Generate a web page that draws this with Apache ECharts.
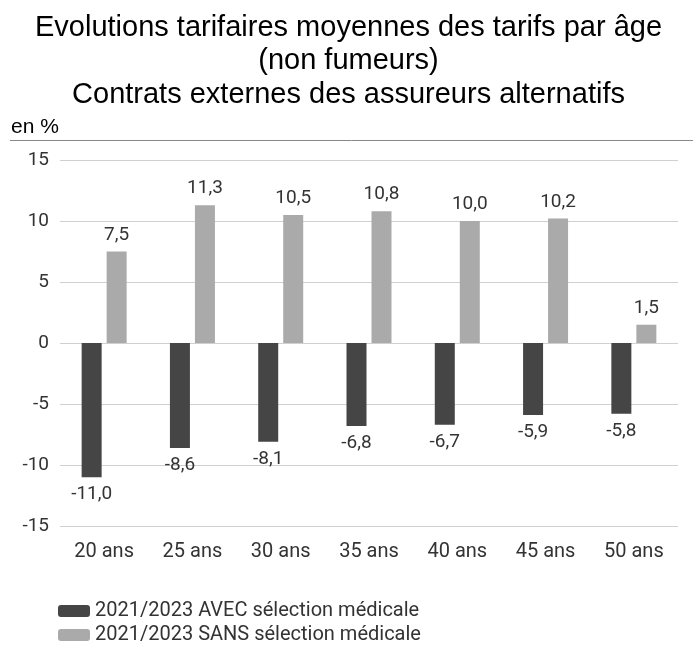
<!DOCTYPE html>
<html><head><meta charset="utf-8">
<script src="https://cdn.jsdelivr.net/npm/echarts@6/dist/echarts.min.js"></script>
<style>html,body{margin:0;padding:0;background:#fff}#c{width:697px;height:650px}</style>
</head><body><div id="c"></div>
<script>
const categories = ['20 ans','25 ans','30 ans','35 ans','40 ans','45 ans','50 ans'];
const avecValues = [-11.0, -8.6, -8.1, -6.8, -6.7, -5.9, -5.8];
const sansValues = [7.5, 11.3, 10.5, 10.8, 10.0, 10.2, 1.5];
const seriesNames = ['2021/2023 AVEC sélection médicale', '2021/2023 SANS sélection médicale'];
const yTicks = [-15, -10, -5, 0, 5, 10, 15];
const titleLines = ['Evolutions tarifaires moyennes des tarifs par âge', '(non fumeurs)', 'Contrats externes des assureurs alternatifs'];
const unitLabel = 'en %';

const sans = 'Roboto, sans-serif';
const fmt = v => v.toFixed(1).replace('.', ',');
const chart = echarts.init(document.getElementById('c'));
chart.setOption({
  animation: false,
  backgroundColor: '#fff',
  title: titleLines.map((t, i) => ({
    text: t, left: 'center', top: 13 + i * 33.5, padding: 0,
    textStyle: { fontFamily: '"Liberation Sans", Arial, sans-serif', fontSize: 29, fontWeight: 'normal', color: '#000' }
  })),
  graphic: [
    { type: 'text', left: 11, top: 117, style: { text: unitLabel, font: '21px "Liberation Sans", Arial, sans-serif', fill: '#000' } },
    { type: 'line', shape: { x1: 10, y1: 140.5, x2: 693, y2: 140.5 }, style: { stroke: '#888', lineWidth: 1 } }
  ],
  legend: {
    orient: 'vertical', left: 58, top: 601, itemWidth: 32, itemHeight: 12, itemGap: 4, padding: 0,
    textStyle: { fontFamily: sans, fontSize: 20, color: '#333' },
    data: seriesNames
  },
  grid: { left: 60, right: 19, top: 160, bottom: 124 },
  xAxis: {
    type: 'category', data: categories,
    axisLine: { show: false }, axisTick: { show: false },
    axisLabel: { margin: 16, fontFamily: sans, fontSize: 20, color: '#333' }
  },
  yAxis: {
    type: 'value', min: yTicks[0], max: yTicks[yTicks.length - 1], interval: 5,
    axisLine: { show: false }, axisTick: { show: false },
    axisLabel: { margin: 11, fontFamily: sans, fontSize: 19, color: '#333' },
    splitLine: { lineStyle: { color: '#d0d0d0', width: 1 } }
  },
  series: [
    { name: seriesNames[0], type: 'bar', data: avecValues, barWidth: 20, barGap: '25%',
      itemStyle: { color: '#454545' },
      label: { show: true, position: 'bottom', distance: 8, formatter: p => fmt(p.value), fontFamily: sans, fontSize: 19, color: '#333' } },
    { name: seriesNames[1], type: 'bar', data: sansValues, barWidth: 20,
      itemStyle: { color: '#aaaaaa' },
      label: { show: true, position: 'top', distance: 7, formatter: p => fmt(p.value), fontFamily: sans, fontSize: 19, color: '#333' } }
  ]
});
</script></body></html>
